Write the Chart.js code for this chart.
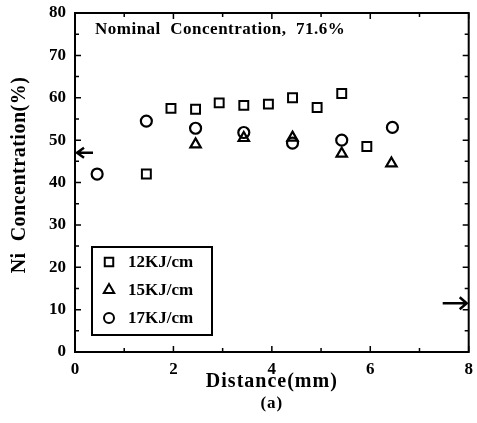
<!DOCTYPE html>
<html>
<head>
<meta charset="utf-8">
<script src="https://cdn.jsdelivr.net/npm/chart.js@4.4.0/dist/chart.umd.min.js"></script>
<style>
  html, body { margin: 0; padding: 0; background: #fff; }
  #wrap { width: 477px; height: 423px; }
</style>
</head>
<body>
<div id="wrap"><canvas id="grafico"></canvas></div>
<script>
// valores
var x12 = [1.45, 1.95, 2.45, 2.93, 3.43, 3.93, 4.42, 4.92, 5.42, 5.93];
var y12 = [42, 57.5, 57.3, 58.8, 58.2, 58.5, 60, 57.7, 61, 48.5];
var x15 = [2.45, 3.43, 4.42, 5.42, 6.43];
var y15 = [49, 50.5, 50.6, 46.8, 44.5];
var x17 = [0.45, 1.45, 2.45, 3.43, 4.42, 5.42, 6.45];
var y17 = [42, 54.5, 52.8, 51.8, 49.3, 50, 53];
var xTicks = [0, 2, 4, 6, 8];
var yTicks = [0, 10, 20, 30, 40, 50, 60, 70, 80];
var series = ['12KJ/cm', '15KJ/cm', '17KJ/cm'];
var arrowLeftY = 47;
var arrowRightY = 11.5;

var fonte = '"Liberation Serif", "DejaVu Serif", serif';

function pares(xs, ys) {
  return xs.map(function(v, i){ return {x: v, y: ys[i]}; });
}

// plugin para moldura, marcas internas, setas, textos e legenda
var extras = {
  id: 'extras',
  afterDraw: function(chart) {
    var ctx = chart.ctx, a = chart.chartArea;
    var sx = chart.scales.x, sy = chart.scales.y;
    ctx.save();
    ctx.strokeStyle = '#000';
    ctx.fillStyle = '#000';
    ctx.lineWidth = 2;
    ctx.strokeRect(a.left, a.top, a.right - a.left, a.bottom - a.top);

    // marcas para dentro
    ctx.lineWidth = 1.5;
    for (var v = 0; v <= 8; v += 1) {
      var px = sx.getPixelForValue(v);
      var len = (v % 2 === 0) ? 6 : 4;
      ctx.beginPath();
      ctx.moveTo(px, a.bottom); ctx.lineTo(px, a.bottom - len);
      ctx.moveTo(px, a.top); ctx.lineTo(px, a.top + len);
      ctx.stroke();
    }
    for (var w = 0; w <= 80; w += 5) {
      var py = sy.getPixelForValue(w);
      var l2 = (w % 10 === 0) ? 6 : 4;
      ctx.beginPath();
      ctx.moveTo(a.left, py); ctx.lineTo(a.left + l2, py);
      ctx.moveTo(a.right, py); ctx.lineTo(a.right - l2, py);
      ctx.stroke();
    }

    // setas
    ctx.lineWidth = 2.5;
    var yl = sy.getPixelForValue(arrowLeftY);
    ctx.beginPath();
    ctx.moveTo(a.left + 18, yl); ctx.lineTo(a.left + 2, yl);
    ctx.moveTo(a.left + 9, yl - 5); ctx.lineTo(a.left + 2, yl); ctx.lineTo(a.left + 9, yl + 5);
    ctx.stroke();
    var yr = sy.getPixelForValue(arrowRightY);
    ctx.beginPath();
    ctx.moveTo(a.right - 26, yr); ctx.lineTo(a.right - 2, yr);
    ctx.moveTo(a.right - 9, yr - 6); ctx.lineTo(a.right - 2, yr); ctx.lineTo(a.right - 9, yr + 6);
    ctx.stroke();

    // textos
    ctx.letterSpacing = '0.5px';
    ctx.font = 'bold 17px ' + fonte;
    ctx.textAlign = 'left';
    ctx.textBaseline = 'middle';
    ctx.fillText('Nominal  Concentration,  71.6%', 95, a.top + 17);

    ctx.letterSpacing = '1px';
    ctx.font = 'bold 20px ' + fonte;
    ctx.textAlign = 'center';
    var cx = sx.getPixelForValue(4);
    ctx.fillText('Distance(mm)', cx, 382);
    ctx.font = 'bold 17px ' + fonte;
    ctx.fillText('(a)', cx, 404);

    ctx.save();
    ctx.translate(20, 175);
    ctx.rotate(-Math.PI / 2);
    ctx.letterSpacing = '0.5px';
    ctx.font = 'bold 20px ' + fonte;
    ctx.fillText('Ni  Concentration(%)', 0, 0);
    ctx.restore();

    // legenda
    ctx.letterSpacing = '0px';
    var bx = 92, by = 247, bw = 120, bh = 88;
    ctx.lineWidth = 2;
    ctx.strokeRect(bx, by, bw, bh);
    var estilos = ['rect', 'triangle', 'circle'];
    var raios = [6, 6, 5];
    ctx.font = 'bold 17px ' + fonte;
    ctx.textAlign = 'left';
    for (var i = 0; i < series.length; i++) {
      var ly = by + 15 + i * 28;
      ctx.lineWidth = 2;
      ctx.fillStyle = '#fff';
      Chart.helpers.drawPoint(ctx, {pointStyle: estilos[i], radius: raios[i], borderWidth: 2}, bx + 17, ly);
      ctx.fillStyle = '#000';
      ctx.fillText(series[i], bx + 36, ly + 1);
    }
    ctx.restore();
  }
};

var ctxGrafico = document.getElementById('grafico');
var grafico = new Chart(ctxGrafico, {
  type: 'scatter',
  data: {
    datasets: [
      {label: series[0], data: pares(x12, y12), pointStyle: 'rect', pointRadius: 6.3,
       borderColor: '#000', backgroundColor: 'rgba(0,0,0,0)', borderWidth: 2},
      {label: series[1], data: pares(x15, y15), pointStyle: 'triangle', pointRadius: 6,
       borderColor: '#000', backgroundColor: 'rgba(0,0,0,0)', borderWidth: 2.2},
      {label: series[2], data: pares(x17, y17), pointStyle: 'circle', pointRadius: 5.5,
       borderColor: '#000', backgroundColor: 'rgba(0,0,0,0)', borderWidth: 2.2}
    ]
  },
  options: {
    responsive: true,
    maintainAspectRatio: false,
    animation: false,
    layout: {padding: {top: 13, right: 1, left: 0, bottom: 0}},
    plugins: {legend: {display: false}, tooltip: {enabled: false}},
    scales: {
      x: {
        type: 'linear', min: 0, max: 8,
        afterBuildTicks: function(s){ s.ticks = xTicks.map(function(v){ return {value: v}; }); },
        afterFit: function(s){ s.height = 71; s.paddingLeft = 0; s.paddingRight = 0; },
        grid: {display: false, drawTicks: false},
        border: {display: true, color: '#000', width: 2},
        ticks: {color: '#000', padding: 7, font: {family: fonte, size: 17, weight: 'bold'}}
      },
      y: {
        type: 'linear', min: 0, max: 80,
        afterBuildTicks: function(s){ s.ticks = yTicks.map(function(v){ return {value: v}; }); },
        afterFit: function(s){ s.width = 75; s.paddingTop = 0; s.paddingBottom = 0; },
        grid: {display: false, drawTicks: false},
        border: {display: true, color: '#000', width: 2},
        ticks: {color: '#000', padding: 9, font: {family: fonte, size: 17, weight: 'bold'}}
      }
    }
  },
  plugins: [extras]
});
</script>
</body>
</html>
